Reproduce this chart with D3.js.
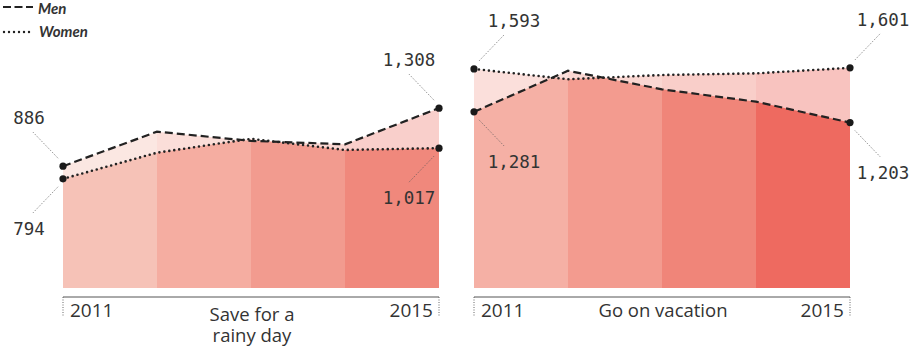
<!DOCTYPE html>
<html>
<head>
<meta charset="utf-8">
<script src="https://cdn.jsdelivr.net/npm/d3@7"></script>
<style>
  html, body { margin: 0; padding: 0; background: #fff; }
  svg { display: block; }
  .num { font-family: "DejaVu Sans Mono", monospace; font-size: 17.5px; fill: #333; }
  .axis-label { font-family: "Open Sans", sans-serif; font-size: 19px; fill: #333; }
  .title-line { font-family: "Open Sans", sans-serif; font-size: 18.5px; fill: #333; }
  .legend { font-family: Lato, "Open Sans", sans-serif; font-size: 15px; font-weight: 700; font-style: italic; fill: #333; }
</style>
</head>
<body>
<svg id="chart" width="909" height="347"></svg>
<script>
// Years shown on each panel
const years = [2011, 2012, 2013, 2014, 2015];

// Average amounts by gender, one pair of series per purpose
const menSave       = [886, 1137, 1070, 1045, 1308];
const womenSave     = [794, 984, 1085, 1004, 1017];
const menVacation   = [1281, 1580, 1445, 1355, 1203];
const womenVacation = [1593, 1518, 1549, 1561, 1601];

const panelTitles = [["Save for a", "rainy day"], ["Go on vacation"]];
const seriesNames = ["Men", "Women"];

// Band colours, one per year interval
const bandColorsSave     = ["#f6c2b7", "#f5ada1", "#f29b8f", "#f0887c"];
const bandColorsVacation = ["#f5b0a5", "#f39b8f", "#f08579", "#ee6a60"];

const svg = d3.select("#chart");
const fmt = d3.format(",");

const y = d3.scaleLinear().domain([0, 1600]).range([288, 68]);

const panels = [
  { title: panelTitles[0], men: menSave, women: womenSave, colors: bandColorsSave,
    range: [63, 439], side: -1, titleY: 321, labelDx: [-34, -30] },
  { title: panelTitles[1], men: menVacation, women: womenVacation, colors: bandColorsVacation,
    range: [474, 850], side: 1, titleY: 317, labelDx: [40, 33] }
];

const defs = svg.append("defs");

panels.forEach((p, pi) => {
  const x = d3.scaleLinear().domain(d3.extent(years)).range(p.range);
  const g = svg.append("g");

  const menPts = years.map((yr, i) => ({ yr, v: p.men[i] }));
  const womenPts = years.map((yr, i) => ({ yr, v: p.women[i] }));

  const area = d3.area().x(d => x(d.yr)).y0(y(0)).y1(d => y(d.v));
  const line = d3.line().x(d => x(d.yr)).y(d => y(d.v));

  // clip for the area under the women's line, used to find the overlap
  const underWomenId = "under-women-" + pi;
  defs.append("clipPath").attr("id", underWomenId)
    .append("path").attr("d", area(womenPts));

  // one vertical band per year interval
  for (let b = 0; b < years.length - 1; b++) {
    const bandId = "band-" + pi + "-" + b;
    defs.append("clipPath").attr("id", bandId)
      .append("rect")
      .attr("x", x(years[b]))
      .attr("y", 0)
      .attr("width", x(years[b + 1]) - x(years[b]))
      .attr("height", 347);

    const dark = p.colors[b];
    const light = d3.interpolateRgb("#ffffff", dark)(0.4);

    const bandG = g.append("g").attr("clip-path", `url(#${bandId})`);
    // union of both areas in the lighter tint
    bandG.append("path").attr("d", area(menPts)).attr("fill", light);
    bandG.append("path").attr("d", area(womenPts)).attr("fill", light);
    // overlap of both areas in the full band colour
    bandG.append("g").attr("clip-path", `url(#${underWomenId})`)
      .append("path").attr("d", area(menPts)).attr("fill", dark);
  }

  // lines
  g.append("path").attr("d", line(menPts))
    .attr("fill", "none").attr("stroke", "#222").attr("stroke-width", 2.2)
    .attr("stroke-dasharray", "8,4");
  g.append("path").attr("d", line(womenPts))
    .attr("fill", "none").attr("stroke", "#222").attr("stroke-width", 2.6)
    .attr("stroke-linecap", "round").attr("stroke-dasharray", "0,5");

  // end-point callouts
  [0, years.length - 1].forEach((idx, ei) => {
    const mv = p.men[idx], wv = p.women[idx];
    [mv, wv].forEach(v => {
      const above = v === Math.max(mv, wv);
      const cx = x(years[idx]), cy = y(v);
      const s = p.side, vdir = above ? -1 : 1;
      g.append("line")
        .attr("x1", cx + s * 5).attr("y1", cy + vdir * 8)
        .attr("x2", cx + s * 30).attr("y2", cy + vdir * 34)
        .attr("stroke", "#555").attr("stroke-width", 0.8)
        .attr("stroke-dasharray", "1,1.5");
      g.append("circle").attr("cx", cx).attr("cy", cy).attr("r", 3.6).attr("fill", "#1a1a1a");
      g.append("text").attr("class", "num")
        .attr("x", cx + p.labelDx[ei])
        .attr("y", above ? cy - 42 : cy + 56)
        .attr("text-anchor", "middle")
        .text(fmt(v));
    });
  });

  // axis
  const axisY = 297;
  g.append("line").attr("x1", p.range[0]).attr("x2", p.range[1])
    .attr("y1", axisY).attr("y2", axisY)
    .attr("stroke", "#555").attr("stroke-width", 1);
  p.range.forEach(px => {
    g.append("line").attr("x1", px).attr("x2", px)
      .attr("y1", axisY).attr("y2", axisY + 20)
      .attr("stroke", "#666").attr("stroke-width", 1)
      .attr("stroke-dasharray", "1,1.5");
  });
  g.append("text").attr("class", "axis-label")
    .attr("x", p.range[0] + 7).attr("y", 317).text(years[0]);
  g.append("text").attr("class", "axis-label")
    .attr("x", p.range[1] - 6).attr("y", 317).attr("text-anchor", "end")
    .text(years[years.length - 1]);
  // panel title, one text element per line
  p.title.forEach((ln, li) => {
    g.append("text").attr("class", "title-line")
      .attr("text-anchor", "middle")
      .attr("x", (p.range[0] + p.range[1]) / 2 + 1)
      .attr("y", p.titleY + li * 21)
      .text(ln);
  });
});

// legend
const legend = svg.append("g");
legend.append("line").attr("x1", 3).attr("x2", 33).attr("y1", 7).attr("y2", 7)
  .attr("stroke", "#222").attr("stroke-width", 2.2).attr("stroke-dasharray", "8,3.5");
legend.append("text").attr("class", "legend").attr("x", 38).attr("y", 13.5).text(seriesNames[0]);
legend.append("line").attr("x1", 4).attr("x2", 33).attr("y1", 32).attr("y2", 32)
  .attr("stroke", "#222").attr("stroke-width", 2.4).attr("stroke-linecap", "round")
  .attr("stroke-dasharray", "0,5");
legend.append("text").attr("class", "legend").attr("x", 39).attr("y", 37).text(seriesNames[1]);
</script>
</body>
</html>
